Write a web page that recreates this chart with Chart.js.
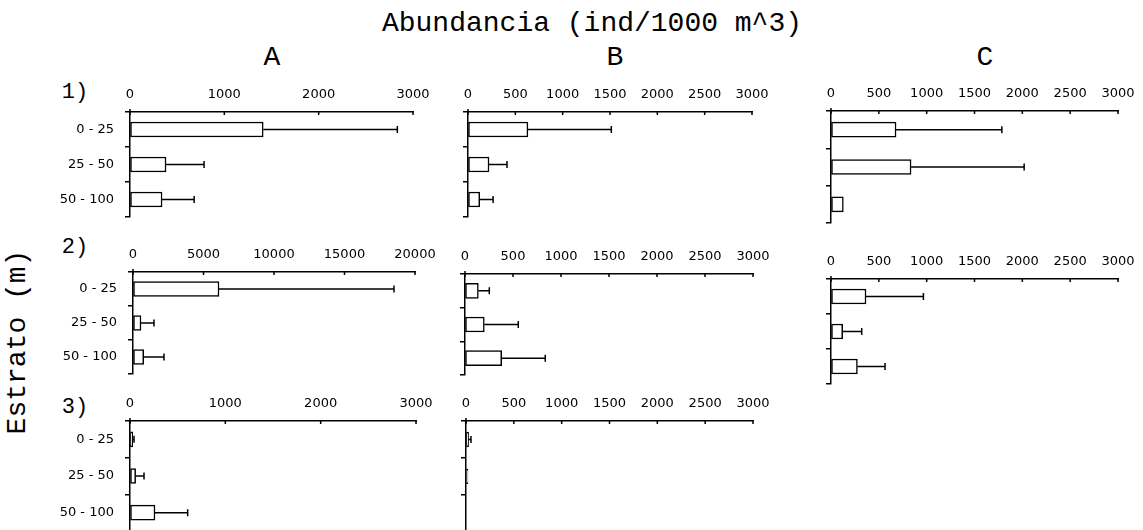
<!DOCTYPE html>
<html>
<head>
<meta charset="utf-8">
<script src="https://cdn.jsdelivr.net/npm/chart.js@4.4.1/dist/chart.umd.min.js"></script>
<style>
  html, body { margin:0; padding:0; background:#fff; width:1143px; height:530px; overflow:hidden; }
  .wrap { position:relative; width:1143px; height:530px; }
  .pnl { position:absolute; }
  .txt { position:absolute; font-family:"Liberation Mono","DejaVu Sans Mono",monospace; color:#000; white-space:nowrap; line-height:1; }
</style>
</head>
<body>
<div class="wrap" id="wrap">
  <div class="txt" id="title" style="font-size:28px;">Abundancia (ind/1000 m^3)</div>
  <div class="txt" id="colA" style="font-size:28px;">A</div>
  <div class="txt" id="colB" style="font-size:28px;">B</div>
  <div class="txt" id="colC" style="font-size:28px;">C</div>
  <div class="txt" id="row1" style="font-size:22px;">1)</div>
  <div class="txt" id="row2" style="font-size:22px;">2)</div>
  <div class="txt" id="row3" style="font-size:22px;">3)</div>
  <div class="txt" id="ylab" style="font-size:28px;">Estrato (m)</div>
</div>
<script>
// ---- data ----
const strata = ["0 - 25", "25 - 50", "50 - 100"];
const ticks3000 = [0, 500, 1000, 1500, 2000, 2500, 3000];
const ticksA = [0, 1000, 2000, 3000];
const ticksA2 = [0, 5000, 10000, 15000, 20000];

const meanA1 = [1412, 382, 340];
const upperA1 = [2834, 785, 680];
const meanB1 = [633, 222, 124];
const upperB1 = [1514, 412, 265];
const meanC1 = [680, 837, 129];
const upperC1 = [1786, 2019, null];

const meanA2 = [6099, 567, 759];
const upperA2 = [18511, 1489, 2199];
const meanB2 = [139, 201, 382];
const upperB2 = [253, 555, 836];
const meanC2 = [366, 122, 276];
const upperC2 = [966, 321, 565];

const meanA3 = [28, 59, 262];
const upperA3 = [42, 147, 605];
const meanB3 = [27, 20, 0];
const upperB3 = [52, null, null];

// ---- layout (pixel geometry of each small panel) ----
const panels = [
  {mean: meanA1, upper: upperA1, tickVals: ticksA,    x0:130, x1:413, top:112, bottom:217, labels:true},
  {mean: meanB1, upper: upperB1, tickVals: ticks3000, x0:468, x1:752, top:112, bottom:217, labels:false},
  {mean: meanC1, upper: upperC1, tickVals: ticks3000, x0:831, x1:1118, top:111, bottom:223, labels:false},
  {mean: meanA2, upper: upperA2, tickVals: ticksA2,   x0:133, x1:415, top:272, bottom:374, labels:true},
  {mean: meanB2, upper: upperB2, tickVals: ticks3000, x0:465, x1:753, top:274, bottom:375, labels:false},
  {mean: meanC2, upper: upperC2, tickVals: ticks3000, x0:831, x1:1118, top:279, bottom:384, labels:false},
  {mean: meanA3, upper: upperA3, tickVals: ticksA,    x0:130, x1:416, top:421, bottom:531, labels:true},
  {mean: meanB3, upper: upperB3, tickVals: ticks3000, x0:466, x1:753, top:421, bottom:532, labels:false}
];

const LEFT = 90, TOPH = 35, RIGHTPAD = 26, BOTPAD = 2;
const tickFont = {family: "'DejaVu Sans', Verdana, sans-serif", size: 13};

const decorPlugin = {
  id: 'decor',
  afterDatasetsDraw(chart, args, opts) {
    const ctx = chart.ctx;
    const xs = chart.scales.x;
    const meta = chart.getDatasetMeta(0);
    ctx.save();
    ctx.strokeStyle = '#000';
    ctx.lineWidth = 1.5;
    // error bars
    opts.mean.forEach((m, i) => {
      const up = opts.upper[i];
      if (up === null || up === undefined) return;
      const y = meta.data[i].y;
      const xa = xs.getPixelForValue(m);
      const xb = xs.getPixelForValue(up);
      ctx.beginPath();
      ctx.moveTo(xa, y); ctx.lineTo(xb, y);
      ctx.moveTo(xb, y - 3.5); ctx.lineTo(xb, y + 3.5);
      ctx.stroke();
    });
    // inward x tick marks
    const a = chart.chartArea;
    xs.ticks.forEach(t => {
      const px = xs.getPixelForValue(t.value);
      ctx.beginPath();
      ctx.moveTo(px, a.top - 1); ctx.lineTo(px, a.top + 3);
      ctx.stroke();
    });
    // small y-axis overshoot above
    ctx.beginPath();
    ctx.moveTo(a.left, a.top - 3); ctx.lineTo(a.left, a.top);
    ctx.stroke();
    ctx.restore();
  }
};

const wrap = document.getElementById('wrap');
panels.forEach((p) => {
  const w = (p.x1 - p.x0) + LEFT + RIGHTPAD;
  const h = (p.bottom - p.top) + TOPH + BOTPAD;
  const div = document.createElement('div');
  div.className = 'pnl';
  div.style.left = (p.x0 - LEFT) + 'px';
  div.style.top = (p.top - TOPH) + 'px';
  div.style.width = w + 'px';
  div.style.height = h + 'px';
  const cv = document.createElement('canvas');
  cv.width = w; cv.height = h;
  cv.style.width = w + 'px'; cv.style.height = h + 'px';
  div.appendChild(cv);
  wrap.appendChild(div);

  const maxV = p.tickVals[p.tickVals.length - 1];
  new Chart(cv, {
    type: 'bar',
    data: {
      labels: strata,
      datasets: [{
        data: p.mean,
        backgroundColor: '#fff',
        borderColor: '#000',
        borderWidth: 1.5,
        borderSkipped: false,
        barThickness: 15
      }]
    },
    options: {
      indexAxis: 'y',
      responsive: false,
      animation: false,
      events: [],
      layout: {padding: {left: 0, top: 0, right: RIGHTPAD, bottom: BOTPAD}},
      plugins: {
        legend: {display: false},
        tooltip: {enabled: false},
        decor: {mean: p.mean, upper: p.upper}
      },
      scales: {
        x: {
          type: 'linear',
          position: 'top',
          min: 0, max: maxV,
          afterBuildTicks: (s) => { s.ticks = p.tickVals.map(v => ({value: v})); },
          ticks: {font: tickFont, color: '#000', padding: 10, maxRotation: 0, autoSkip: false,
                  callback: (v) => String(v)},
          grid: {display: true, drawOnChartArea: false, drawTicks: false},
          border: {display: true, color: '#000', width: 1.5},
          afterFit: (s) => { s.height = TOPH; s.paddingLeft = 0; s.paddingRight = 0; }
        },
        y: {
          type: 'category',
          offset: true,
          ticks: {
            font: tickFont, color: '#000', padding: 11,
            callback: function(v) { return p.labels ? this.getLabelForValue(v) : ''; }
          },
          grid: {display: true, offset: true, drawOnChartArea: false, drawTicks: true, tickLength: 5, color: '#000', lineWidth: 1.5},
          border: {display: true, color: '#000', width: 1.5},
          afterFit: (s) => { s.width = LEFT; s.paddingTop = 0; s.paddingBottom = 0; }
        }
      }
    },
    plugins: [decorPlugin]
  });
});

// ---- text placement ----
function place(id, cx, cy) {
  const el = document.getElementById(id);
  const r = el.getBoundingClientRect();
  el.style.left = (cx - r.width / 2) + 'px';
  el.style.top = (cy - r.height / 2) + 'px';
}
place('title', 592, 24);
place('colA', 272, 58);
place('colB', 615, 58);
place('colC', 985, 58);
place('row1', 75, 93);
place('row2', 75, 248);
place('row3', 75, 408);
const yl = document.getElementById('ylab');
const yr = yl.getBoundingClientRect();
yl.style.left = (18 - yr.width / 2) + 'px';
yl.style.top = (342 - yr.height / 2) + 'px';
yl.style.transform = 'rotate(-90deg)';
</script>
</body>
</html>
